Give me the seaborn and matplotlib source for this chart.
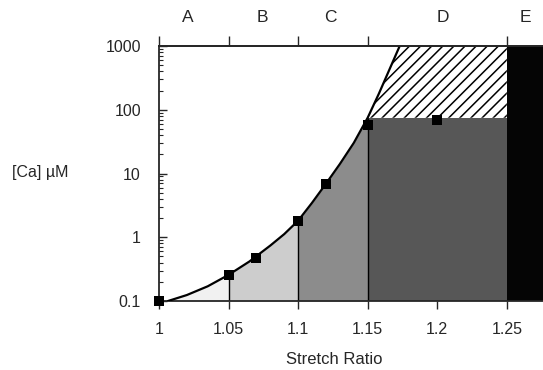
import numpy as np
import pandas as pd
import matplotlib
matplotlib.use("Agg")
import matplotlib.pyplot as plt
import seaborn as sns

# ---- data ----
curve_x = [1.0065, 1.02, 1.035, 1.05, 1.065, 1.08, 1.09, 1.10, 1.11, 1.12,
           1.13, 1.14, 1.15, 1.158, 1.165, 1.173]
curve_y = [0.1, 0.124, 0.17, 0.257, 0.417, 0.741, 1.12, 1.82, 3.47, 6.92,
           14.1, 30.2, 75, 178, 398, 1000]

pts_x = [1.0, 1.05, 1.07, 1.10, 1.12, 1.15, 1.20]
pts_y = [0.1, 0.26, 0.48, 1.8, 6.9, 57, 68]

region_labels = ["A", "B", "C", "D", "E"]
region_label_x = [1.021, 1.0745, 1.1235, 1.204, 1.2635]
region_edges = [1.0, 1.05, 1.10, 1.15, 1.25, 1.276]
region_colors = ["#f1f1f1", "#cdcdcd", "#8c8c8c", "#575757", "#050505"]
plateau = 75

x_ticks = [1, 1.05, 1.1, 1.15, 1.2, 1.25]
x_ticklabels = ["1", "1.05", "1.1", "1.15", "1.2", "1.25"]
top_ticks = [1, 1.05, 1.1, 1.15, 1.25]
y_ticks = [0.1, 1, 10, 100, 1000]
y_ticklabels = ["0.1", "1", "10", "100", "1000"]

sns.set_style("ticks")
plt.rcParams["font.family"] = ["Liberation Sans", "DejaVu Sans"]
plt.rcParams["hatch.linewidth"] = 1.1

fig = plt.figure(figsize=(5.43, 3.70), dpi=100)
ax = fig.add_axes([159 / 543, 1 - 301 / 370, 1 - 159 / 543, 255 / 370])

cx = np.array(curve_x)
cy = np.array(curve_y)
ymin, ymax = 0.1, 1000

# shaded regions under the curve (A, B, C)
for i in range(3):
    lo, hi = region_edges[i], region_edges[i + 1]
    m = (cx >= lo) & (cx <= hi)
    xs, ys = cx[m], cy[m]
    if xs[0] > lo:
        xs = np.concatenate([[lo], xs])
        ys = np.concatenate([[ymin], ys])
    ax.fill_between(xs, ymin, ys, color=region_colors[i], lw=0, zorder=1)

# D: rectangle up to plateau
ax.fill_between([region_edges[3], region_edges[4]], ymin, plateau,
                color=region_colors[3], lw=0, zorder=1)
# E: black band
ax.fill_between([region_edges[4], region_edges[5]], ymin, ymax,
                color=region_colors[4], lw=0, zorder=1)
# hatched region above plateau, right of the curve
m = cy >= plateau
ax.fill_betweenx(cy[m], cx[m], region_edges[4], facecolor="white",
                 edgecolor="black", hatch="///", lw=0, zorder=1)

# vertical separators from bottom up to the curve
for b in region_edges[1:4]:
    top = cy[np.argmin(np.abs(cx - b))]
    ax.vlines(b, ymin, top, color="black", lw=1.0, zorder=2)

# curve and points
sns.lineplot(x=curve_x, y=curve_y, ax=ax, color="black", lw=1.6,
             sort=False, zorder=3)
sns.scatterplot(x=pts_x, y=pts_y, ax=ax, marker="s", s=55, color="black",
                edgecolor="black", linewidth=0, zorder=4, clip_on=False)

ax.set_yscale("log")
ax.set_xlim(region_edges[0], region_edges[-1])
ax.set_ylim(ymin, ymax)

ax.set_xticks(x_ticks)
ax.set_xticklabels(x_ticklabels, fontsize=11.5)
ax.set_yticks(y_ticks)
ax.set_yticklabels(y_ticklabels, fontsize=11.5)
ax.tick_params(axis="x", direction="out", length=6, width=1, pad=9)
ax.tick_params(axis="y", which="major", direction="in", length=6, width=1, pad=13)
ax.tick_params(axis="y", which="minor", direction="in", length=3, width=0.8)

for s in ["left", "bottom", "top"]:
    ax.spines[s].set_linewidth(1.3)
    ax.spines[s].set_visible(True)
ax.spines["right"].set_visible(False)

# top axis with region letters
ax2 = ax.twiny()
ax2.set_xlim(ax.get_xlim())
ax2.set_xticks(top_ticks)
ax2.set_xticklabels([])
ax2.tick_params(axis="x", direction="out", length=7, width=1)
for s in ["left", "bottom", "right"]:
    ax2.spines[s].set_visible(False)
ax2.spines["top"].set_linewidth(1.3)
for lab, lx in zip(region_labels, region_label_x):
    ax2.text(lx, 1.0 + 29 / 255, lab, transform=ax2.get_xaxis_transform(),
             ha="center", va="center", fontsize=12.5)

ax.set_xlabel("")
ax.set_ylabel("")
fig.text(334 / 543, 1 - 360 / 370, "Stretch Ratio", ha="center", va="center", fontsize=12)
fig.text(12 / 543, 1 - 173 / 370, "[Ca] \u00b5M", ha="left", va="center", fontsize=11.5)

fig.savefig("out.png", dpi=100)
